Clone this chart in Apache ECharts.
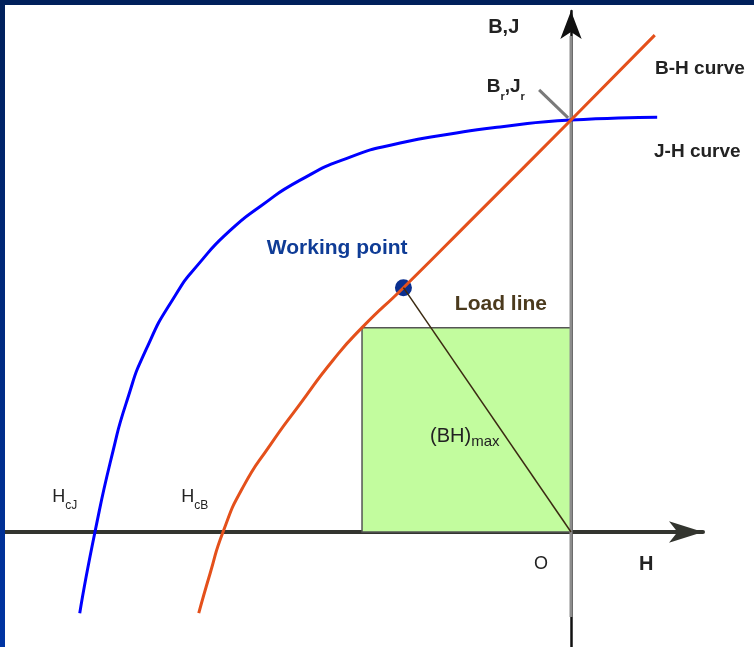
<!DOCTYPE html>
<html>
<head>
<meta charset="utf-8">
<title>Demagnetisation curves, working point and (BH)max</title>
<script src="https://cdn.jsdelivr.net/npm/echarts@6/dist/echarts.min.js"></script>
<style>
  html, body { margin: 0; padding: 0; background: #ffffff; }
  #chart { width: 754px; height: 647px; }
</style>
</head>
<body>
<div id="chart"></div>
<script>
// Second-quadrant demagnetisation curves, normalised:
// H is given relative to |H_cJ|, B and J relative to B_r.
const bhH = [-0.782, -0.758, -0.731, -0.689, -0.632, -0.569, -0.500, -0.439, -0.352, -0.191, 0, 0.176];
const bhB = [-0.197, -0.100, 0, 0.109, 0.211, 0.311, 0.417, 0.496, 0.593, 0.779, 1.0, 1.206];

const jhH = [-1.032, -1.0, -0.962, -0.933, -0.893, -0.832, -0.779, -0.716, -0.653, -0.569, -0.464, -0.359, -0.254, -0.149, 0, 0.181];
const jhJ = [-0.197, 0, 0.197, 0.318, 0.442, 0.573, 0.655, 0.732, 0.790, 0.854, 0.910, 0.944, 0.966, 0.983, 1.0, 1.007];

// Point of maximum energy product on the B-H curve, and the working point
const bhMaxPoint = [-0.439, 0.496];
const workingPoint = [-0.352, 0.593];

// Axis extents (normalised units)
const X_MIN = -1.189, X_MAX = 0.2773;
const Y_MIN = -0.2791, Y_MAX = 1.2646;
const SHAFT_LOW = -0.206, SHAFT_TOP = 1.204;

const FONT = '"Liberation Sans", Arial, Helvetica, sans-serif';
const zip = (a, b) => a.map((v, i) => [v, b[i]]);

const chart = echarts.init(document.getElementById('chart'), null, { renderer: 'canvas' });

const option = {
  animation: false,
  backgroundColor: '#ffffff',
  grid: { left: 5, right: 51, top: 11, bottom: 0, containLabel: false },
  xAxis: {
    type: 'value', min: X_MIN, max: X_MAX,
    axisLine: {
      onZero: true,
      symbol: ['none', 'arrow'], symbolSize: [16, 34],
      lineStyle: { color: '#33352f', width: 4 }
    },
    axisTick: { show: false }, axisLabel: { show: false }, splitLine: { show: false }
  },
  yAxis: {
    type: 'value', min: Y_MIN, max: Y_MAX,
    axisLine: {
      onZero: true,
      symbol: ['none', 'arrow'], symbolSize: [16, 28],
      lineStyle: { color: '#111111', width: 2.5 }
    },
    axisTick: { show: false }, axisLabel: { show: false }, splitLine: { show: false }
  },
  series: [
    {
      // light grey shaft of the B,J axis
      name: 'axis shaft', type: 'line', silent: true, symbol: 'none',
      data: [[0, SHAFT_LOW], [0, SHAFT_TOP]],
      lineStyle: { color: '#8c8c8c', width: 3 }
    },
    {
      // leader from the B_r, J_r label to the remanence point
      name: 'remanence leader', type: 'line', silent: true, symbol: 'none',
      data: [[-0.067, 1.073], [-0.006, 1.005]],
      lineStyle: { color: '#7a7a7a', width: 3 }
    },
    {
      name: 'J-H curve', type: 'line', smooth: 0.6, symbol: 'none',
      data: zip(jhH, jhJ),
      lineStyle: { color: '#0000ff', width: 3 }
    },
    {
      name: 'B-H curve', type: 'line', smooth: 0.6, symbol: 'none',
      data: zip(bhH, bhB),
      lineStyle: { color: '#e4501b', width: 3 },
      markArea: {
        silent: true,
        itemStyle: { color: '#c2fc9e', borderColor: '#555555', borderWidth: 1.5 },
        data: [[{ coord: bhMaxPoint }, { coord: [0, 0] }]]
      }
    },
    {
      name: 'Load line', type: 'line', symbol: 'none',
      data: [workingPoint, [0, 0]],
      lineStyle: { color: '#3b2a12', width: 1.5 }
    },
    {
      name: 'Working point', type: 'scatter', symbol: 'circle', symbolSize: 17,
      data: [workingPoint],
      itemStyle: { color: '#0a2f8f', opacity: 1 }
    }
  ]
};
chart.setOption(option);

// Text annotations, anchored in data coordinates (cap centre of the main text)
const annotations = [
  { at: [-0.639, 0.688], main: 'Working point', size: 21, weight: 'bold', color: '#0f3c96' },
  { at: [-0.244, 0.553], main: 'Load line', size: 21, weight: 'bold', color: '#4b3a1d' },
  { at: [-0.296, 0.233], main: '(BH)', sub: 'max', size: 20, subSize: 15, drop: 6, color: '#222222' },
  { at: [-1.090, 0.086], main: 'H', sub: 'cJ', size: 18, subSize: 12, drop: 9, color: '#222222' },
  { at: [-0.819, 0.086], main: 'H', sub: 'cB', size: 18, subSize: 12, drop: 9, color: '#222222' },
  { at: [-0.063, -0.078], main: 'O', size: 18, color: '#222222', align: 'center' },
  { at: [0.158, -0.080], main: 'H', size: 20, weight: 'bold', color: '#222222', align: 'center' },
  { at: [-0.174, 1.2245], main: 'B,J', size: 20, weight: 'bold', color: '#222222' },
  { at: [-0.177, 1.081], parts: [['B', 0], ['r', 1], [',J', 0], ['r', 1]], size: 19, subSize: 11, drop: 10, weight: 'bold', color: '#222222' },
  { at: [0.1765, 1.125], main: 'B-H curve', size: 19, weight: 'bold', color: '#222222' },
  { at: [0.1744, 0.922], main: 'J-H curve', size: 19, weight: 'bold', color: '#222222' }
];

function annotationElement(a) {
  const p = chart.convertToPixel({ gridIndex: 0 }, a.at);
  const weight = a.weight || 'normal';
  const subSize = a.subSize || 12;
  const pad = (a.drop || 0) + (a.size - subSize) / 2;
  const rich = {
    m: { fontSize: a.size, lineHeight: a.size, fontWeight: weight, fontFamily: FONT, fill: a.color, verticalAlign: 'top' },
    s: { fontSize: subSize, lineHeight: subSize, fontWeight: weight, fontFamily: FONT, fill: a.color, verticalAlign: 'top', padding: [pad, 0, 0, 0] }
  };
  let text;
  if (a.parts) {
    text = a.parts.map(([t, isSub]) => '{' + (isSub ? 's' : 'm') + '|' + t + '}').join('');
  } else {
    text = '{m|' + a.main + '}' + (a.sub ? '{s|' + a.sub + '}' : '');
  }
  return {
    type: 'text', z: 50, silent: true,
    x: p[0], y: p[1] - a.size / 2,
    style: {
      text: text, rich: rich,
      fontSize: a.size, fontFamily: FONT, fontWeight: weight, fill: a.color,
      align: a.align || 'left', verticalAlign: 'top'
    }
  };
}

const frame = [
  { type: 'rect', z: 100, silent: true, shape: { x: 0, y: 0, width: 754, height: 5 }, style: { fill: '#00205b' } },
  {
    type: 'rect', z: 100, silent: true, shape: { x: 0, y: 0, width: 5, height: 647 },
    style: {
      fill: new echarts.graphic.LinearGradient(0, 0, 0, 1, [
        { offset: 0, color: '#00205b' }, { offset: 1, color: '#0034a3' }
      ])
    }
  }
];

chart.setOption({ graphic: frame.concat(annotations.map(annotationElement)) });
</script>
</body>
</html>
